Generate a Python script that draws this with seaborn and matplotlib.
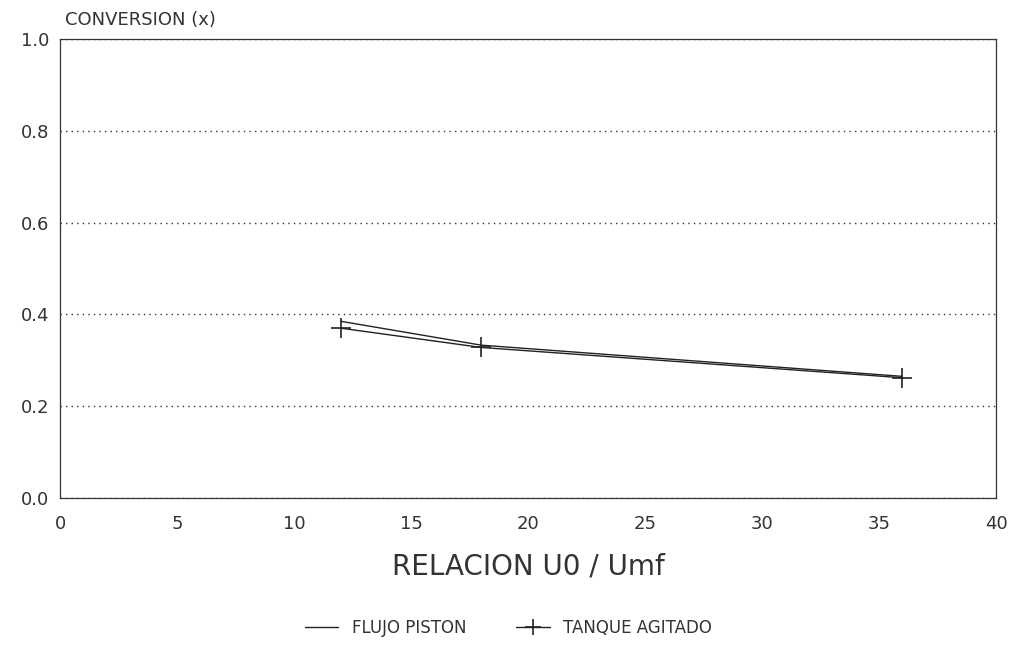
import matplotlib
matplotlib.use("Agg")
import matplotlib.pyplot as plt
import seaborn as sns
import pandas as pd
from matplotlib.lines import Line2D

relacion = [12, 18, 36]
flujo_piston = [0.385, 0.333, 0.265]
tanque_agitado = [0.370, 0.328, 0.262]
series_names = ["FLUJO PISTON", "TANQUE AGITADO"]

sns.set_theme(style="white")
plt.rcParams['font.family'] = ['DejaVu Sans']

df_fp = pd.DataFrame({"x": relacion, "y": flujo_piston})
df_ta = pd.DataFrame({"x": relacion, "y": tanque_agitado})

fig = plt.figure(figsize=(10.17, 6.54), dpi=100)
ax = fig.add_axes([60/1017, 1 - 498/654, (996-60)/1017, (498-39)/654])

ink = "#222222"
sns.lineplot(data=df_fp, x="x", y="y", color=ink, linewidth=1.0, ax=ax)
sns.lineplot(data=df_ta, x="x", y="y", color=ink, linewidth=1.0, marker="+",
             markersize=14, markeredgewidth=1.2, markeredgecolor=ink, ax=ax)

ax.set_xlim(0, 40)
ax.set_ylim(0, 1.0)
ax.set_xticks([0, 5, 10, 15, 20, 25, 30, 35, 40])
ax.set_yticks([0.0, 0.2, 0.4, 0.6, 0.8, 1.0])
ax.set_yticklabels(["0.0", "0.2", "0.4", "0.6", "0.8", "1.0"])
ax.tick_params(axis="x", direction="in", length=6, width=0.8, colors="#333333", labelsize=13, pad=12)
ax.tick_params(axis="y", direction="in", length=0, labelsize=13, colors="#333333", pad=8)
ax.yaxis.grid(True, linestyle=(0, (1, 3)), color="#333333", linewidth=1.0)
ax.xaxis.grid(False)
for s in ax.spines.values():
    s.set_color("#333333")
    s.set_linewidth(0.9)

ax.set_xlabel("RELACION U0 / Umf", fontsize=20, color="#333333", labelpad=14)
ax.set_ylabel("")
fig.text(65/1017, 1 - 20/654, "CONVERSION (x)", fontsize=13, color="#333333", va="center", ha="left")

handles = [Line2D([], [], color=ink, lw=1.0),
           Line2D([], [], color=ink, lw=1.0, marker="+", markersize=12, markeredgewidth=1.2)]
fig.legend(handles, series_names, loc="center", bbox_to_anchor=(0.5, 1 - 628/654), ncol=2,
           frameon=False, fontsize=12, handlelength=2.0, columnspacing=3.0,
           labelcolor="#333333")

fig.savefig("out.png", dpi=100)
